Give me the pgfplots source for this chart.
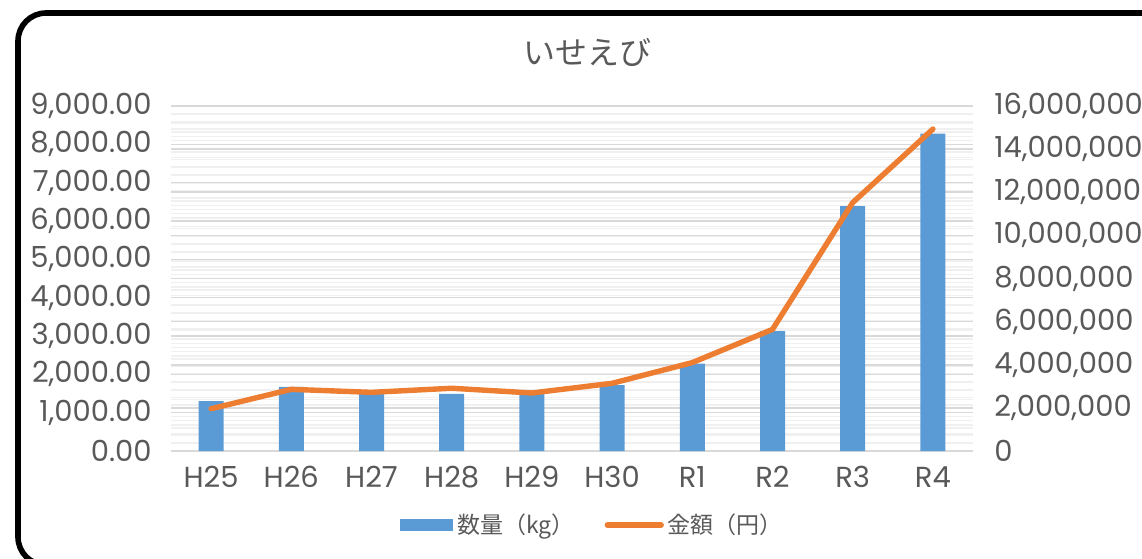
\documentclass[border=0pt]{standalone}
\usepackage{fontspec}
\setmainfont{Poppins}
\newfontfamily\cjk{Noto Sans CJK JP}
\usepackage{pgfplots}
\pgfplotsset{compat=1.18}

\definecolor{barblue}{HTML}{5B9BD5}
\definecolor{linorange}{HTML}{ED7D31}
\definecolor{txtgray}{HTML}{595959}
\definecolor{gridmaj}{HTML}{D9D9D9}
\definecolor{gridmin}{HTML}{F0F0F0}

\pgfplotsset{
  common/.style={
    set layers,
    at={(85.5pt,53.5pt)}, anchor=south west,
    scale only axis, width=401pt, height=172.5pt,
    xmin=-0.5, xmax=9.5, ymin=0,
    major tick length=0pt, minor tick length=0pt,
    axis line style={draw=none},
    ymajorgrids, yminorgrids, minor y tick num=4,
    major grid style={draw=gridmaj, line width=0.75pt},
    minor grid style={draw=gridmin, line width=0.75pt},
    ticklabel style={font=\fontsize{14.5}{16}\selectfont, text=txtgray},
  },
}

\begin{document}
\begin{tikzpicture}
% rounded frame of the chart (runs off the right and bottom edge)
\draw[line width=2.8pt, rounded corners=14pt]
  (640pt,272.5pt) -- (9pt,272.5pt) -- (9pt,-3.5pt) -- (640pt,-3.5pt);
\node[text=txtgray, font=\cjk\fontsize{16}{18}\selectfont] at (293.5pt,253pt) {いせえび};

% left axis: quantity (kg), bars
\begin{axis}[common,
    ymax=9000,
    axis y line*=left, axis x line*=bottom,
    ytick={0,1000,2000,3000,4000,5000,6000,7000,8000,9000},
    yticklabel style={anchor=east, inner sep=0pt, xshift=-9.5pt,
      /pgf/number format/.cd, fixed, fixed zerofill, precision=2, 1000 sep={,}, assume math mode=true},
    xtick={0,1,2,3,4,5,6,7,8,9},
    xticklabels={H25,H26,H27,H28,H29,H30,R1,R2,R3,R4},
    xticklabel style={anchor=base, inner sep=0pt, yshift=-18pt},
    ybar, bar width=12.5pt,
  ]
  \addplot[fill=barblue, draw=none] coordinates {
    (0,1304) (1,1670) (2,1530) (3,1487) (4,1510)
    (5,1720) (6,2280) (7,3130) (8,6390) (9,8280)
  };
\end{axis}

% right axis: amount (yen), line
\begin{axis}[common,
    ymax=16000000,
    axis y line*=right, axis x line=none,
    xtick=\empty,
    ytick={0,2000000,4000000,6000000,8000000,10000000,12000000,14000000,16000000},
    scaled y ticks=false,
    yticklabel style={anchor=west, inner sep=0pt, xshift=10.5pt,
      /pgf/number format/.cd, fixed, precision=0, 1000 sep={,}, assume math mode=true},
    legend columns=2,
    legend style={at={(0.527,-0.2145)}, anchor=center, draw=none, fill=none,
      font=\cjk\fontsize{11.5}{13}\selectfont, text=txtgray,
      /tikz/every even column/.append style={column sep=13pt}},
    legend cell align=left,
  ]
  \addlegendimage{legend image code/.code={\fill[barblue] (0pt,-2.75pt) rectangle (26pt,2.75pt);}}
  \addlegendentry{数量（kg）}
  \addplot[linorange, line width=2.7pt, line join=round, line cap=round, mark=none,
    legend image code/.code={\draw[linorange, line width=2.6pt, line cap=round] (0pt,0pt) -- (27pt,0pt);}]
    coordinates {
    (0,1960000) (1,2860000) (2,2720000) (3,2910000) (4,2690000)
    (5,3140000) (6,4100000) (7,5640000) (8,11520000) (9,14930000)
  };
  \addlegendentry{金額（円）}
\end{axis}
\pgfresetboundingbox
\useasboundingbox (0,0) rectangle (571pt,279pt);
\end{tikzpicture}
\end{document}
